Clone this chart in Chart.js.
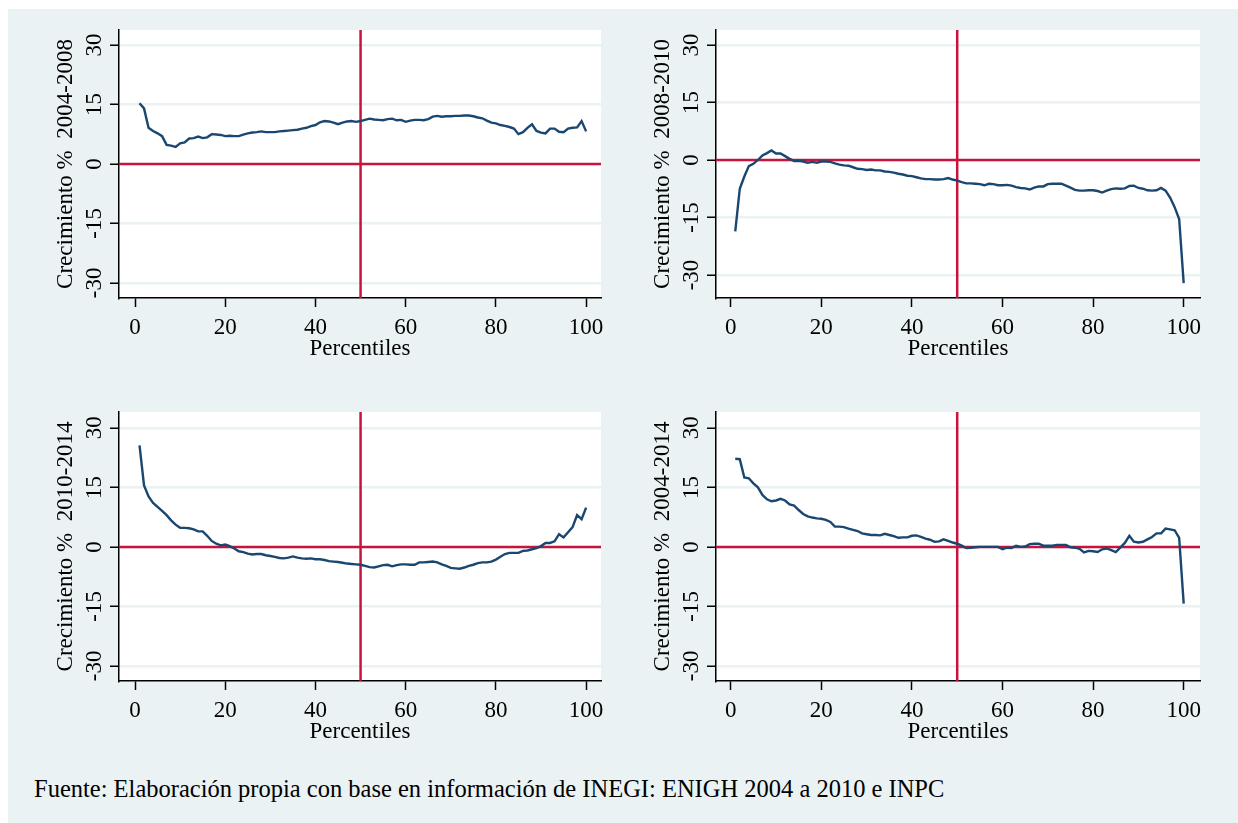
<!DOCTYPE html>
<html>
<head>
<meta charset="utf-8">
<script src="https://cdn.jsdelivr.net/npm/chart.js@4.4.1/dist/chart.umd.min.js"></script>
<style>
html,body{margin:0;padding:0;background:#ffffff;width:1238px;height:823px;overflow:hidden;}
#bg{position:absolute;left:8px;top:9px;width:1230px;height:814px;background:#EAF2F3;}
.panel{position:absolute;}
#footer{position:absolute;left:34px;top:773px;font-family:"Liberation Serif","Times New Roman",serif;font-size:24.5px;color:#000;white-space:nowrap;line-height:32px;}
</style>
</head>
<body>
<div id="bg"></div>
<div class="panel" style="left:20px;top:10px"><canvas id="c1" width="600" height="360"></canvas></div>
<div class="panel" style="left:617px;top:10px"><canvas id="c2" width="602" height="360"></canvas></div>
<div class="panel" style="left:20px;top:392px"><canvas id="c3" width="600" height="361"></canvas></div>
<div class="panel" style="left:617px;top:392px"><canvas id="c4" width="602" height="361"></canvas></div>
<div id="footer">Fuente: Elaboración propia con base en información de INEGI: ENIGH 2004 a 2010 e INPC</div>
<script>
// ---------- DATA ----------
const percentiles = [1,2,3,4,5,6,7,8,9,10,11,12,13,14,15,16,17,18,19,20,
21,22,23,24,25,26,27,28,29,30,31,32,33,34,35,36,37,38,39,40,
41,42,43,44,45,46,47,48,49,50,51,52,53,54,55,56,57,58,59,60,
61,62,63,64,65,66,67,68,69,70,71,72,73,74,75,76,77,78,79,80,
81,82,83,84,85,86,87,88,89,90,91,92,93,94,95,96,97,98,99,100];

const growth2004_2008 = [15.3,14.0,9.1,8.3,7.7,7.0,4.8,4.6,4.3,5.2,
5.4,6.4,6.5,6.9,6.5,6.7,7.5,7.4,7.3,7.0,
7.1,7.0,7.0,7.4,7.7,7.9,8.0,8.2,8.0,8.0,
8.0,8.2,8.3,8.4,8.5,8.6,8.9,9.1,9.5,9.8,
10.5,10.8,10.7,10.4,10.0,10.4,10.7,10.8,10.6,10.8,
11.1,11.4,11.2,11.1,11.0,11.3,11.4,11.0,11.1,10.6,
10.9,11.1,11.1,11.0,11.3,11.9,12.1,11.9,12.0,12.0,
12.1,12.1,12.2,12.2,12.0,11.7,11.5,10.9,10.4,10.2,
9.8,9.6,9.3,8.9,7.5,8.0,9.1,10.0,8.3,7.9,
7.7,8.9,8.9,8.1,8.0,8.9,9.1,9.2,10.8,8.2];

const growth2008_2010 = [-18.6,-7.5,-4.3,-1.6,-1.0,0.0,1.2,1.8,2.5,1.7,
1.7,1.0,0.3,-0.3,-0.2,-0.4,-0.7,-0.5,-0.7,-0.4,
-0.4,-0.5,-0.9,-1.2,-1.4,-1.5,-1.9,-2.3,-2.4,-2.6,
-2.5,-2.7,-2.7,-3.0,-3.1,-3.3,-3.6,-3.8,-4.1,-4.2,
-4.5,-4.8,-5.0,-5.0,-5.1,-5.1,-5.0,-4.7,-5.1,-5.4,
-5.8,-6.1,-6.1,-6.2,-6.3,-6.6,-6.2,-6.3,-6.6,-6.6,
-6.5,-6.7,-7.1,-7.3,-7.4,-7.7,-7.2,-6.9,-6.9,-6.3,
-6.2,-6.2,-6.2,-6.7,-7.2,-7.8,-8.0,-8.0,-7.9,-7.9,
-8.1,-8.5,-8.0,-7.6,-7.4,-7.5,-7.4,-6.8,-6.7,-7.3,
-7.5,-7.9,-8.0,-7.9,-7.3,-8.0,-9.8,-12.3,-15.4,-32.1];

const growth2010_2014 = [25.6,15.5,12.7,11.1,10.1,9.1,8.0,6.7,5.6,4.8,
4.8,4.7,4.4,3.9,3.9,2.8,1.5,0.8,0.4,0.6,
0.2,-0.4,-1.1,-1.3,-1.7,-1.9,-1.8,-1.8,-2.1,-2.3,
-2.5,-2.8,-2.9,-2.7,-2.4,-2.7,-2.9,-3.0,-2.9,-3.1,
-3.1,-3.3,-3.6,-3.7,-3.8,-4.0,-4.2,-4.3,-4.4,-4.5,
-4.8,-5.1,-5.2,-4.9,-4.6,-4.5,-4.9,-4.6,-4.4,-4.4,
-4.5,-4.5,-3.9,-3.9,-3.8,-3.7,-3.9,-4.4,-4.8,-5.3,
-5.4,-5.5,-5.2,-4.8,-4.5,-4.1,-3.9,-3.9,-3.7,-3.2,
-2.5,-1.8,-1.5,-1.5,-1.5,-1.0,-0.9,-0.6,-0.3,0.2,
1.0,1.0,1.4,3.2,2.4,3.7,5.0,8.0,7.0,9.9];

const growth2004_2014 = [22.2,22.1,17.5,17.3,16.0,15.0,13.1,12.0,11.5,11.7,
12.1,11.7,10.7,10.4,9.3,8.3,7.7,7.4,7.2,7.1,
6.8,6.3,5.1,5.1,5.0,4.6,4.3,4.0,3.4,3.2,
3.0,3.0,2.9,3.3,3.0,2.7,2.3,2.4,2.4,2.8,
2.9,2.5,2.1,1.8,1.3,1.4,1.9,1.5,1.1,0.8,
0.3,-0.3,-0.2,-0.1,0.0,0.0,0.0,0.0,0.0,-0.6,
-0.2,-0.3,0.3,0.0,0.1,0.7,0.8,0.8,0.3,0.3,
0.3,0.5,0.5,0.5,-0.1,-0.2,-0.5,-1.4,-1.0,-1.1,
-1.3,-0.6,-0.4,-0.8,-1.3,-0.2,1.0,2.8,1.3,1.1,
1.3,1.9,2.5,3.4,3.4,4.6,4.4,4.2,2.3,-14.3];

const xTickValues = [0,20,40,60,80,100];
const yTickValues = [-30,-15,0,15,30];
const refPercentile = 50;
const refGrowth = 0;
const xTitle = 'Percentiles';
const yTitles = ['Crecimiento %  2004-2008','Crecimiento %  2008-2010','Crecimiento %  2010-2014','Crecimiento %  2004-2014'];

// ---------- STYLE ----------
const FONT = '"Liberation Serif", "Times New Roman", serif';
const NAVY = '#1A476F';
const RED = '#C8143C';
const GRID = '#EAF2F3';

const whiteArea = {
  id: 'whiteArea',
  beforeDraw(chart) {
    const {ctx, chartArea: a} = chart;
    ctx.save();
    ctx.fillStyle = '#ffffff';
    ctx.fillRect(a.left, a.top, a.right - a.left, a.bottom - a.top);
    ctx.restore();
  }
};

function makePanel(id, values, yTitle, xMin, xMax, yMin, yMax) {
  const series = percentiles.map((p, i) => ({x: p, y: values[i]}));
  return new Chart(document.getElementById(id), {
    type: 'line',
    data: {
      datasets: [
        {data: series, borderColor: NAVY, borderWidth: 2.4, pointRadius: 0, tension: 0, fill: false, order: 1},
        {data: [{x: xMin, y: refGrowth}, {x: xMax, y: refGrowth}], borderColor: RED, borderWidth: 2.5, pointRadius: 0, fill: false, order: 2},
        {data: [{x: refPercentile, y: yMin}, {x: refPercentile, y: yMax}], borderColor: RED, borderWidth: 2.5, pointRadius: 0, fill: false, order: 2}
      ]
    },
    options: {
      responsive: false,
      animation: false,
      devicePixelRatio: 1,
      events: [],
      layout: {padding: {left: 0, top: 20, right: 19, bottom: 0}},
      plugins: {legend: {display: false}, tooltip: {enabled: false}},
      scales: {
        x: {
          type: 'linear', min: xMin, max: xMax,
          afterBuildTicks: s => { s.ticks = xTickValues.map(v => ({value: v})); },
          afterFit: s => { s.height = 72; },
          grid: {drawOnChartArea: false, drawTicks: true, tickLength: 9, tickColor: '#000', tickWidth: 1.5},
          border: {display: true, color: '#000', width: 1.5},
          ticks: {font: {family: FONT, size: 23}, color: '#000', padding: 7, minRotation: 0, maxRotation: 0, autoSkip: false},
          title: {display: true, text: xTitle, font: {family: FONT, size: 23}, color: '#000', padding: {top: 0, bottom: 7}}
        },
        y: {
          type: 'linear', min: yMin, max: yMax,
          afterBuildTicks: s => { s.ticks = yTickValues.map(v => ({value: v})); },
          afterFit: s => { s.width = 99; },
          grid: {color: GRID, lineWidth: 2.5, drawTicks: true, tickLength: 9, tickColor: '#000', tickWidth: 1.5},
          border: {display: true, color: '#000', width: 1.5},
          ticks: {font: {family: FONT, size: 23}, color: '#000', padding: 0, minRotation: 90, maxRotation: 90, crossAlign: 'center', autoSkip: false},
          title: {display: true, text: yTitle, font: {family: FONT, size: 23}, color: '#000', padding: {top: 32, bottom: 0}}
        }
      }
    },
    plugins: [whiteArea]
  });
}

makePanel('c1', growth2004_2008, yTitles[0], -3.55, 103.3, -33.8, 33.75);
makePanel('c2', growth2008_2010, yTitles[1], -3.25, 103.6, -36.0, 33.9);
makePanel('c3', growth2010_2014, yTitles[2], -3.55, 103.3, -33.8, 34.0);
makePanel('c4', growth2004_2014, yTitles[3], -3.25, 103.6, -33.8, 34.0);
</script>
</body>
</html>
